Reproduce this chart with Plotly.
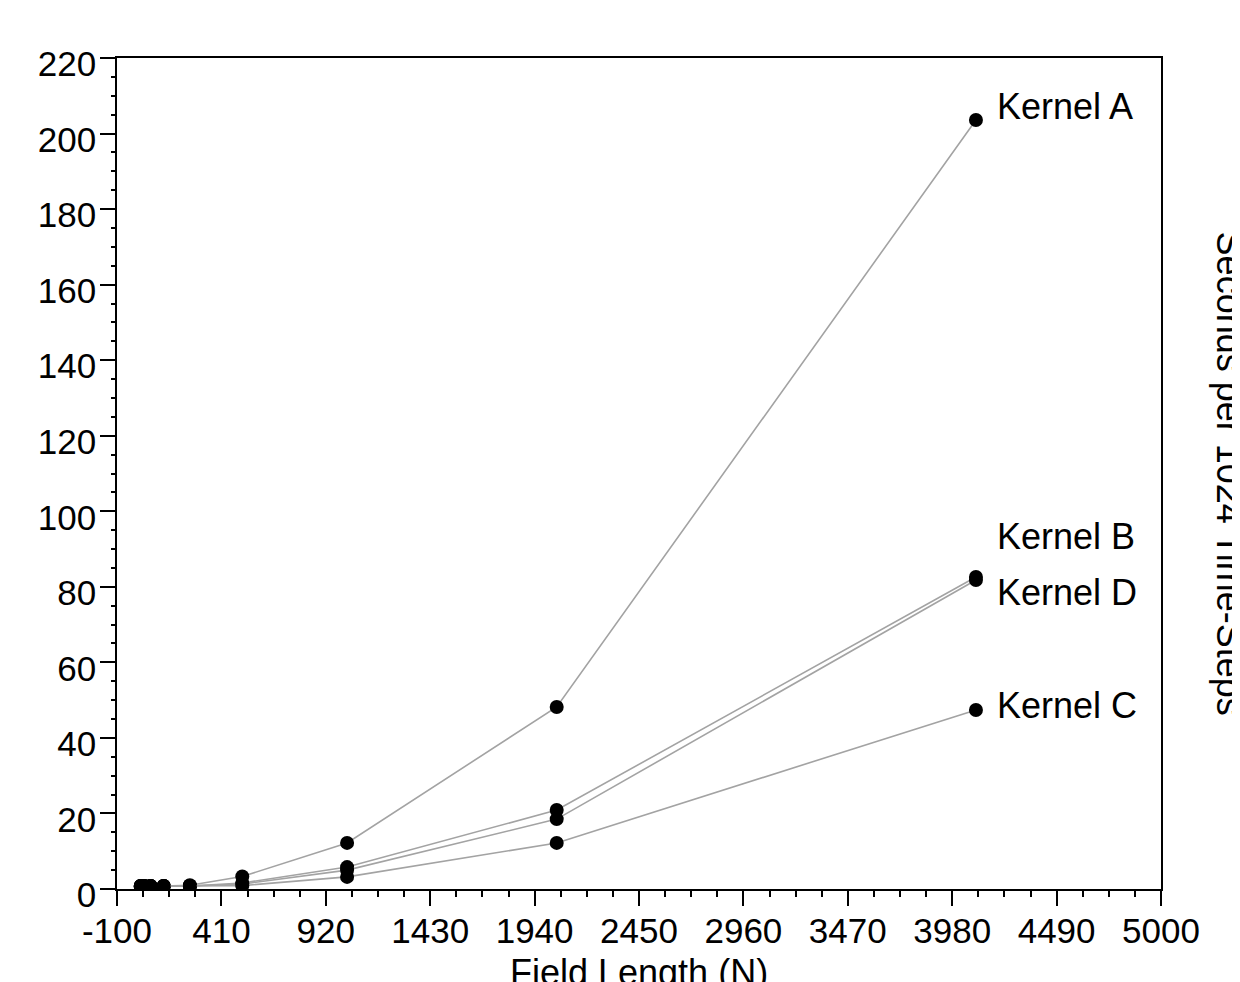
import plotly.graph_objects as go

field_length = [16, 32, 64, 128, 256, 512, 1024, 2048, 4096]
kernel_a = [0.8, 0.8, 0.8, 0.8, 1.0, 3.3, 12.2, 48.2, 203.6]
kernel_b = [0.8, 0.8, 0.8, 0.8, 0.8, 1.6, 5.8, 20.9, 82.6]
kernel_d = [0.8, 0.8, 0.8, 0.8, 0.8, 1.3, 5.0, 18.5, 81.8]
kernel_c = [0.8, 0.8, 0.8, 0.8, 0.8, 0.9, 3.2, 12.2, 47.4]

series_names = ["Kernel A", "Kernel B", "Kernel D", "Kernel C"]
series_values = [kernel_a, kernel_b, kernel_d, kernel_c]
label_yshift = [13, 41, -12, 4]

x_tickvals = [-100, 410, 920, 1430, 1940, 2450, 2960, 3470, 3980, 4490, 5000]
x_ticktext = ["-100", "410", "920", "1430", "1940", "2450", "2960", "3470", "3980", "4490", "5000"]

FONT = "Liberation Sans, Arial, Helvetica, sans-serif"
FS = 35
FS_T = 36

fig = go.Figure()
for name, vals in zip(series_names, series_values):
    fig.add_trace(go.Scatter(
        x=field_length, y=vals, name=name, mode="lines+markers",
        line=dict(color="#a3a3a3", width=1.6),
        marker=dict(color="black", size=14),
        showlegend=False, cliponaxis=True,
    ))

for name, vals, ys in zip(series_names, series_values, label_yshift):
    fig.add_annotation(x=field_length[-1], y=vals[-1], xref="x", yref="y",
                       text=name, showarrow=False, xanchor="left", yanchor="middle",
                       xshift=19, yshift=ys, font=dict(family=FONT, size=FS_T, color="black"))

fig.add_annotation(x=1.066, y=0.5, xref="paper", yref="paper",
                   text="Seconds per 1024 Time-Steps", textangle=90, showarrow=False,
                   xanchor="center", yanchor="middle",
                   font=dict(family=FONT, size=FS_T, color="black"))
fig.add_annotation(x=0.5, y=-0.1, xref="paper", yref="paper",
                   text="Field Length (N)", showarrow=False,
                   xanchor="center", yanchor="middle",
                   font=dict(family=FONT, size=FS_T, color="black"))

XR = [-100, 5000]
YR = [0, 220]

fig.update_layout(
    width=1240, height=982,
    margin=dict(l=109, r=87, t=50, b=101),
    paper_bgcolor="white", plot_bgcolor="white",
    font=dict(family=FONT, size=FS, color="black"),
    xaxis=dict(range=XR, tickmode="array", tickvals=x_tickvals, ticktext=x_ticktext,
               ticks="outside", ticklen=15, tickwidth=1.5, tickcolor="black",
               ticklabelstandoff=-5,
               showline=True, linecolor="black", linewidth=1.5, mirror=True,
               showgrid=False, zeroline=False,
               minor=dict(ticks="outside", ticklen=6, tickwidth=1.5, tickcolor="black",
                          tick0=-100, dtick=127.5, showgrid=False),
               tickfont=dict(family=FONT, size=FS, color="black")),
    yaxis=dict(range=YR, tick0=0, dtick=20,
               ticks="outside", ticklen=15, tickwidth=1.5, tickcolor="black",
               ticklabelstandoff=-3, ticklabelshift=6,
               showline=True, linecolor="black", linewidth=1.5, mirror=True,
               showgrid=False, zeroline=False,
               minor=dict(ticks="outside", ticklen=4, tickwidth=1.5, tickcolor="black",
                          tick0=0, dtick=5, showgrid=False),
               tickfont=dict(family=FONT, size=FS, color="black")),
    xaxis2=dict(range=XR, overlaying="x", anchor="y", side="bottom",
                tick0=-100, dtick=255, ticks="outside", ticklen=11, tickwidth=1.5,
                tickcolor="black", showticklabels=False, showline=False,
                showgrid=False, zeroline=False),
    yaxis2=dict(range=YR, overlaying="y", anchor="x", side="left",
                tick0=0, dtick=10, ticks="outside", ticklen=10, tickwidth=1.5,
                tickcolor="black", showticklabels=False, showline=False,
                showgrid=False, zeroline=False),
)

fig.write_html("out.html")
